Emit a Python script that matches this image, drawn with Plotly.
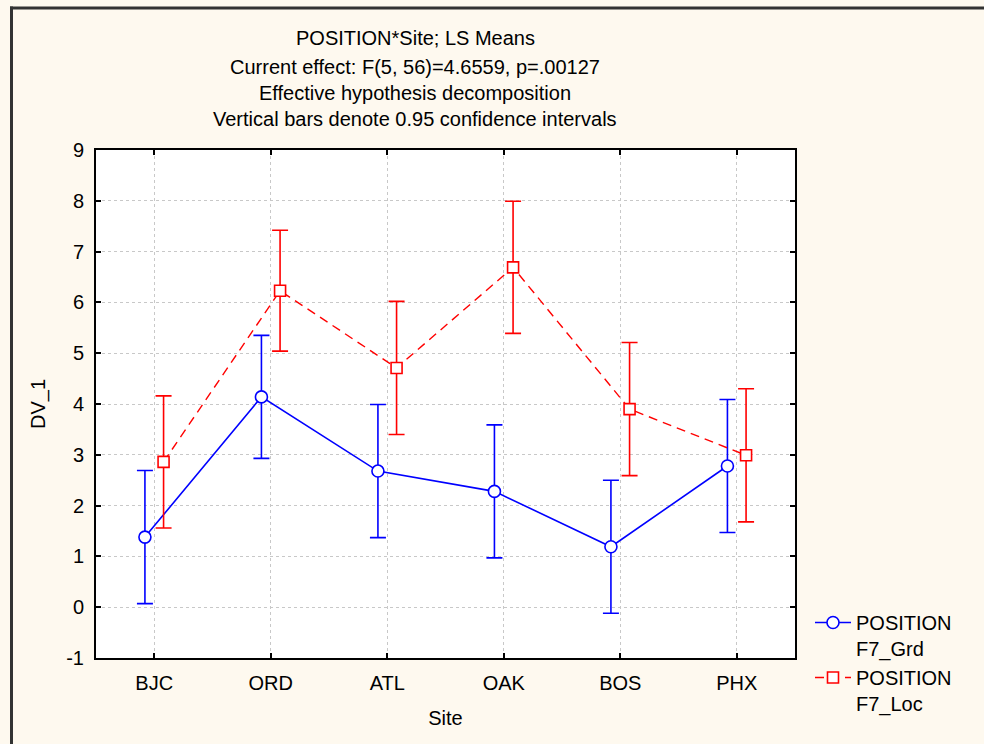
import plotly.graph_objects as go

sites = ["BJC", "ORD", "ATL", "OAK", "BOS", "PHX"]
grd_mean = [1.38, 4.14, 2.68, 2.28, 1.19, 2.78]
grd_ci = [1.31, 1.21, 1.31, 1.31, 1.31, 1.31]
loc_mean = [2.86, 6.23, 4.71, 6.69, 3.90, 2.99]
loc_ci = [1.30, 1.19, 1.31, 1.30, 1.31, 1.31]
title_lines = [
    "POSITION*Site; LS Means",
    "Current effect: F(5, 56)=4.6559, p=.00127",
    "Effective hypothesis decomposition",
    "Vertical bars denote 0.95 confidence intervals",
]
y_ticks = list(range(-1, 10))
y_ticktext = [str(v) for v in y_ticks]

FONT = "Liberation Sans, Arial, sans-serif"
FS = 20
W, H = 984, 744
L, R, T, B = 96, 795, 150, 658

def px_x(p):
    return (p - L) / (R - L)

def px_y(p):
    return (B - p) / (B - T)

off = 0.08
xg = [i - off for i in range(len(sites))]
xl = [i + off for i in range(len(sites))]

fig = go.Figure()
fig.add_trace(go.Scatter(
    x=xg, y=grd_mean, mode="lines+markers",
    name="POSITION<br>F7_Grd",
    line=dict(color="#0000FF", width=1.6),
    marker=dict(symbol="circle", size=12, color="white",
                line=dict(color="#0000FF", width=1.6)),
    error_y=dict(type="data", array=grd_ci, color="#0000FF", thickness=1.6, width=8),
))
fig.add_trace(go.Scatter(
    x=xl, y=loc_mean, mode="lines+markers",
    name="POSITION<br>F7_Loc",
    line=dict(color="#FF0000", width=1.4, dash="9px,6px"),
    marker=dict(symbol="square", size=11, color="white",
                line=dict(color="#FF0000", width=1.6)),
    error_y=dict(type="data", array=loc_ci, color="#FF0000", thickness=1.6, width=8),
))

axis_common = dict(
    showline=True, linecolor="black", linewidth=2, mirror="ticks",
    ticks="inside", ticklen=5, tickcolor="black", tickwidth=1.5,
    showgrid=True, gridcolor="#c8c8c8", griddash="dot", gridwidth=1,
    zeroline=False,
    tickfont=dict(family=FONT, size=FS, color="black"),
)

fig.update_xaxes(
    range=[-0.5, len(sites) - 0.5],
    tickvals=list(range(len(sites))), ticktext=sites,
    ticklabelstandoff=6,
    title=dict(text="Site", font=dict(family=FONT, size=FS, color="black"), standoff=18),
    **axis_common,
)
fig.update_yaxes(
    range=[-1, 9], tickvals=y_ticks, ticktext=y_ticktext,
    ticklabelstandoff=6,
    title=dict(text="DV_1", font=dict(family=FONT, size=FS, color="black"), standoff=15),
    **axis_common,
)

annotations = []
for txt, yp in zip(title_lines, [38, 67, 93, 119]):
    annotations.append(dict(
        text=txt, x=px_x(415), y=px_y(yp), xref="paper", yref="paper",
        xanchor="center", yanchor="middle", showarrow=False,
        font=dict(family=FONT, size=FS, color="black"),
    ))

shapes = [
    dict(type="line", xref="paper", yref="paper",
         x0=px_x(10), x1=px_x(990), y0=px_y(8), y1=px_y(8),
         line=dict(color="#333333", width=3)),
    dict(type="line", xref="paper", yref="paper",
         x0=px_x(11.5), x1=px_x(11.5), y0=px_y(6.5), y1=px_y(750),
         line=dict(color="#333333", width=3)),
]

fig.update_layout(
    width=W, height=H,
    margin=dict(l=L, r=W - R, t=T, b=H - B),
    paper_bgcolor="#FEF9EF", plot_bgcolor="white",
    annotations=annotations, shapes=shapes,
    showlegend=True,
    legend=dict(
        x=px_x(810), y=px_y(603), xanchor="left", yanchor="top",
        bgcolor="rgba(0,0,0,0)", font=dict(family=FONT, size=FS, color="black"),
        itemwidth=36, tracegroupgap=0, valign="top",
    ),
    font=dict(family=FONT, size=FS, color="black"),
)

fig.write_html(
    "out.html",
    config={"displayModeBar": False},
    post_script="document.body.style.margin='0';document.body.style.overflow='hidden';",
)
